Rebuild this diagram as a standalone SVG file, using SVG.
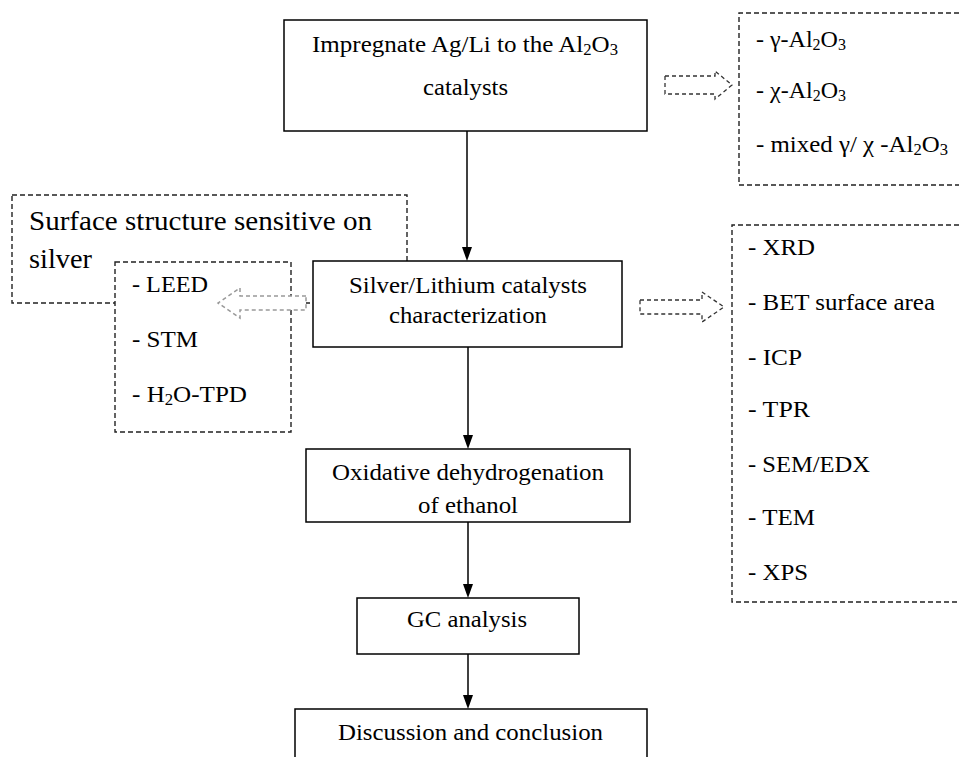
<svg xmlns="http://www.w3.org/2000/svg" width="959" height="757" viewBox="0 0 959 757" font-family="'Liberation Serif', 'Times New Roman', serif">
<style>
text{font-family:'Liberation Serif','Times New Roman',serif;font-size:24px;fill:#000}
.big{font-size:27px}
.sub{font-size:16px}
.box{fill:#fff;stroke:#000;stroke-width:1.5}
.dbox{fill:#fff;stroke:#222;stroke-width:1.4;stroke-dasharray:5,3}
.dline{fill:none;stroke:#222;stroke-width:1.4;stroke-dasharray:5,3}
.darr{fill:#fff;stroke:#333;stroke-width:1.3;stroke-dasharray:4,3}
.garr{fill:#fff;stroke:#999;stroke-width:1.5;stroke-dasharray:4,3}
.conn{stroke:#000;stroke-width:1.5;fill:none}
.head{fill:#000}
</style>
<rect width="959" height="757" fill="#fff"/>

<g id="connectors">
<line class="conn" x1="467" y1="131" x2="467" y2="247"/>
<path class="head" d="M462,247 L472,247 L467,261 Z"/>
<line class="conn" x1="468" y1="347" x2="468" y2="435"/>
<path class="head" d="M463,435 L473,435 L468,449 Z"/>
<line class="conn" x1="468" y1="522" x2="468" y2="584"/>
<path class="head" d="M463,584 L473,584 L468,598 Z"/>
<line class="conn" x1="468" y1="654" x2="468" y2="695"/>
<path class="head" d="M463,695 L473,695 L468,709 Z"/>
</g>

<g id="impregnate">
<rect class="box" x="284" y="20" width="363" height="111"/>
<text x="312" y="52" textLength="306" lengthAdjust="spacingAndGlyphs">Impregnate Ag/Li to the Al<tspan class="sub" dy="3">2</tspan><tspan dy="-3">O</tspan><tspan class="sub" dy="3">3</tspan></text>
<text x="423" y="95" textLength="85" lengthAdjust="spacingAndGlyphs">catalysts</text>
</g>

<g id="arrow-alumina">
<path class="darr" d="M665,76 H715 V71 L732,85 L715,99 V94 H665 Z"/>
</g>

<g id="alumina-list">
<path class="dline" d="M959,13 H739 V185 H959"/>
<text x="756" y="47">- γ-Al<tspan class="sub" dy="3">2</tspan><tspan dy="-3">O</tspan><tspan class="sub" dy="3">3</tspan></text>
<text x="756" y="98">- χ-Al<tspan class="sub" dy="3">2</tspan><tspan dy="-3">O</tspan><tspan class="sub" dy="3">3</tspan></text>
<text x="756" y="152" textLength="192" lengthAdjust="spacingAndGlyphs">- mixed γ/ χ -Al<tspan class="sub" dy="3">2</tspan><tspan dy="-3">O</tspan><tspan class="sub" dy="3">3</tspan></text>
</g>

<g id="surface">
<rect class="dbox" x="12" y="195" width="395" height="108"/>
<text class="big" x="29" y="230" textLength="343" lengthAdjust="spacingAndGlyphs">Surface structure sensitive on</text>
<text class="big" x="29" y="268" textLength="63" lengthAdjust="spacingAndGlyphs">silver</text>
</g>

<g id="surface-list">
<rect class="dbox" x="115" y="262" width="176" height="170"/>
<text x="132" y="292" textLength="76" lengthAdjust="spacingAndGlyphs">- LEED</text>
<text x="132" y="347" textLength="66" lengthAdjust="spacingAndGlyphs">- STM</text>
<text x="132" y="402" textLength="115" lengthAdjust="spacingAndGlyphs">- H<tspan class="sub" dy="3">2</tspan><tspan dy="-3">O-TPD</tspan></text>
</g>

<g id="characterization">
<rect class="box" x="313" y="261" width="309" height="86"/>
<text x="349" y="293" textLength="238" lengthAdjust="spacingAndGlyphs">Silver/Lithium catalysts</text>
<text x="389" y="323" textLength="158" lengthAdjust="spacingAndGlyphs">characterization</text>
</g>

<g id="arrow-surface">
<path class="garr" d="M306,296 H240 V288 L218,303 L240,318 V310 H306 Z"/>
</g>

<g id="arrow-methods">
<path class="darr" d="M640,300 H702 V292 L724,307 L702,322 V314 H640 Z"/>
</g>

<g id="methods-list">
<path class="dline" d="M959,225 H732 V602 H959"/>
<text x="748" y="255" textLength="67" lengthAdjust="spacingAndGlyphs">- XRD</text>
<text x="748" y="310" textLength="187" lengthAdjust="spacingAndGlyphs">- BET surface area</text>
<text x="748" y="365" textLength="54" lengthAdjust="spacingAndGlyphs">- ICP</text>
<text x="748" y="417" textLength="62" lengthAdjust="spacingAndGlyphs">- TPR</text>
<text x="748" y="472" textLength="122" lengthAdjust="spacingAndGlyphs">- SEM/EDX</text>
<text x="748" y="525" textLength="67" lengthAdjust="spacingAndGlyphs">- TEM</text>
<text x="748" y="580" textLength="60" lengthAdjust="spacingAndGlyphs">- XPS</text>
</g>

<g id="oxidative">
<rect class="box" x="306" y="449" width="324" height="73"/>
<text x="332" y="480" textLength="272" lengthAdjust="spacingAndGlyphs">Oxidative dehydrogenation</text>
<text x="418" y="513" textLength="100" lengthAdjust="spacingAndGlyphs">of ethanol</text>
</g>

<g id="gc">
<rect class="box" x="357" y="598" width="222" height="56"/>
<text x="407" y="627" textLength="120" lengthAdjust="spacingAndGlyphs">GC analysis</text>
</g>

<g id="discussion">
<path class="box" d="M295,770 V709 H647 V770"/>
<text x="338" y="740" textLength="265" lengthAdjust="spacingAndGlyphs">Discussion and conclusion</text>
</g>
</svg>
